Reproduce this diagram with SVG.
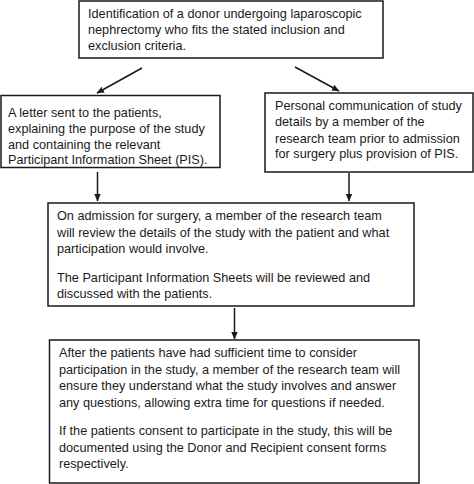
<svg xmlns="http://www.w3.org/2000/svg" width="474" height="484" viewBox="0 0 474 484">
<defs>
<style>
.box{fill:#fff;stroke:#1a1a1a;stroke-width:1.5}
.t{font-family:"Liberation Sans",Arial,sans-serif;font-size:12.7px;fill:#1a1a1a}
.c{stroke:#1a1a1a;stroke-width:1.5;fill:none}
</style>
<marker id="ah" markerWidth="8" markerHeight="8" refX="7" refY="4" orient="auto" markerUnits="userSpaceOnUse">
<path d="M0,0.8 L7.5,4 L0,7.2 Z" fill="#1a1a1a"/>
</marker>
</defs>
<rect width="474" height="484" fill="#fff"/>
<g id="n1">
<rect class="box" x="79" y="1" width="304" height="57"/>
<text class="t" x="88" y="18">Identification of a donor undergoing laparoscopic</text>
<text class="t" x="88" y="34">nephrectomy who fits the stated inclusion and</text>
<text class="t" x="88" y="50">exclusion criteria.</text>
</g>
<g id="n2">
<rect class="box" x="1" y="95.5" width="219" height="72"/>
<text class="t" x="8" y="117">A letter sent to the patients,</text>
<text class="t" x="8" y="133">explaining the purpose of the study</text>
<text class="t" x="8" y="148.5">and containing the relevant</text>
<text class="t" x="8" y="164">Participant Information Sheet (PIS).</text>
</g>
<g id="n3">
<rect class="box" x="265" y="93" width="208" height="79"/>
<text class="t" x="275" y="110">Personal communication of study</text>
<text class="t" x="275" y="126">details by a member of the</text>
<text class="t" x="275" y="142.5">research team prior to admission</text>
<text class="t" x="275" y="158">for surgery plus provision of PIS.</text>
</g>
<g id="n4">
<rect class="box" x="48" y="203" width="366" height="103"/>
<text class="t" x="57" y="220">On admission for surgery, a member of the research team</text>
<text class="t" x="57" y="237">will review the details of the study with the patient and what</text>
<text class="t" x="57" y="253">participation would involve.</text>
<text class="t" x="57" y="282">The Participant Information Sheets will be reviewed and</text>
<text class="t" x="57" y="298">discussed with the patients.</text>
</g>
<g id="n5">
<rect class="box" x="49.5" y="340" width="369.5" height="143"/>
<text class="t" x="59" y="357">After the patients have had sufficient time to consider</text>
<text class="t" x="59" y="373.5">participation in the study, a member of the research team will</text>
<text class="t" x="59" y="390">ensure they understand what the study involves and answer</text>
<text class="t" x="59" y="406.5">any questions, allowing extra time for questions if needed.</text>
<text class="t" x="59" y="435">If the patients consent to participate in the study, this will be</text>
<text class="t" x="59" y="451.5">documented using the Donor and Recipient consent forms</text>
<text class="t" x="59" y="468">respectively.</text>
</g>
<g id="connectors">
<line class="c" x1="142" y1="68" x2="97" y2="93" marker-end="url(#ah)"/>
<line class="c" x1="295" y1="67" x2="339" y2="91" marker-end="url(#ah)"/>
<line class="c" x1="97.5" y1="172" x2="97.5" y2="201" marker-end="url(#ah)"/>
<line class="c" x1="349" y1="173" x2="349" y2="201" marker-end="url(#ah)"/>
<line class="c" x1="234.5" y1="308" x2="234.5" y2="339" marker-end="url(#ah)"/>
</g>
</svg>
